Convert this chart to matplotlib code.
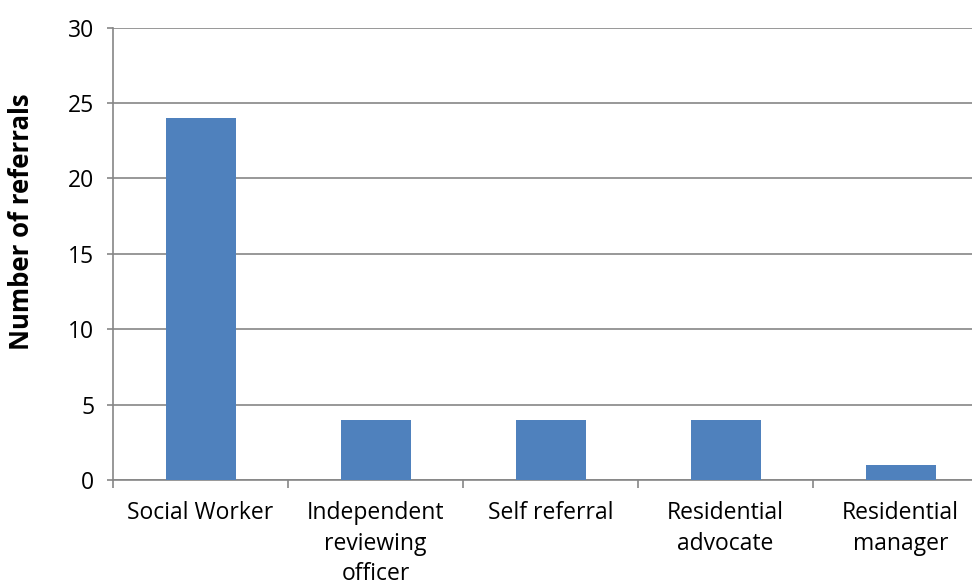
import matplotlib.pyplot as plt

# Referral sources and counts
sources = ["Social Worker", "Independent\nreviewing\nofficer", "Self referral",
           "Residential\nadvocate", "Residential\nmanager"]
referrals = [24, 4, 4, 4, 1]
y_ticks = [0, 5, 10, 15, 20, 25, 30]

plt.rcParams['font.family'] = ['Open Sans', 'DejaVu Sans']

fig = plt.figure(figsize=(9.72, 5.88), dpi=100)
# plot area runs slightly past the right edge of the figure
ax = fig.add_axes([0.1163, 0.1832, 0.9003, 0.7700])

x = range(len(sources))
ax.bar(x, referrals, width=0.4, color='#4F81BD', zorder=3)

ax.set_xlim(-0.5, len(sources) - 0.5)
ax.set_ylim(0, 30)
ax.set_yticks(y_ticks)
ax.tick_params(axis='y', labelsize=16.5, length=4.5, color='#868686', width=1.2, pad=9)

# category labels centred, ticks on the category boundaries
ax.set_xticks(list(x))
ax.set_xticklabels(sources, fontsize=16.5, linespacing=1.36)
ax.tick_params(axis='x', length=0, pad=15)
ax.set_xticks([i - 0.5 for i in range(len(sources) + 1)], minor=True)
ax.tick_params(axis='x', which='minor', length=6, color='#868686', width=1.2)

ax.grid(axis='y', color='#868686', linewidth=1.2, zorder=0)
for side in ['top', 'right']:
    ax.spines[side].set_visible(False)
for side in ['left', 'bottom']:
    ax.spines[side].set_color('#868686')
    ax.spines[side].set_linewidth(1.2)

ax.set_ylabel('Number of referrals', fontsize=18.5, fontweight='bold')
ax.yaxis.set_label_coords(-0.089, 0.571)

fig.savefig('out.png', dpi=100)
